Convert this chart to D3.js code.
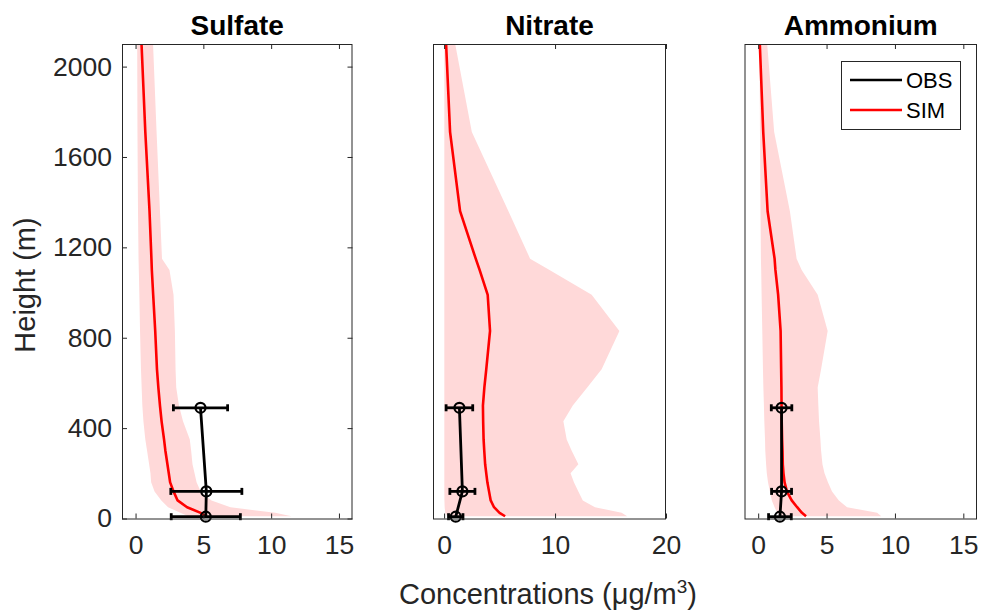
<!DOCTYPE html>
<html>
<head>
<meta charset="utf-8">
<script src="https://cdn.jsdelivr.net/npm/d3@7"></script>
<style>
  html, body { margin: 0; padding: 0; background: #fff; }
  svg { display: block; font-family: "Liberation Sans", Arial, Helvetica, sans-serif; }
</style>
</head>
<body>
<svg id="chart" width="983" height="613"></svg>
<script>
// ---------------- DATA ----------------
const species = ["Sulfate", "Nitrate", "Ammonium"];
const heights = [10, 25, 50, 80, 120, 160, 200, 240, 300, 350, 430, 500, 580, 660, 830, 990, 1100, 1150, 1360, 1710, 2100];

const sulfateSim = [5.2, 4.8, 3.8, 3.1, 2.8, 2.55, 2.45, 2.35, 2.2, 2.1, 1.92, 1.8, 1.68, 1.58, 1.45, 1.3, 1.2, 1.17, 1.03, 0.72, 0.44];
const sulfateMin = [3.9, 3.3, 2.4, 1.9, 1.4, 1.15, 1.1, 1.0, 0.85, 0.72, 0.58, 0.5, 0.45, 0.4, 0.33, 0.28, 0.24, 0.22, 0.18, 0.14, 0.12];
const sulfateMax = [11.5, 10.3, 7.0, 5.6, 4.8, 4.5, 4.35, 4.2, 4.1, 4.0, 3.5, 3.2, 3.0, 2.95, 2.9, 2.8, 2.5, 1.95, 1.8, 1.55, 1.29];

const nitrateSim = [5.5, 5.0, 4.5, 4.2, 4.05, 3.9, 3.8, 3.7, 3.62, 3.56, 3.52, 3.5, 3.63, 3.8, 4.14, 3.93, 3.2, 2.85, 1.44, 0.54, 0.18];
const nitrateMin = [0.3, 0.1, 0.05, 0.03, 0.02, 0.02, 0.02, 0.02, 0.02, 0.02, 0.02, 0.02, 0.02, 0.02, 0.02, 0.02, 0.02, 0.02, 0.02, 0.02, 0.02];
const nitrateMax = [16.5, 16.0, 13.6, 12.5, 12.1, 11.7, 11.4, 12.1, 11.5, 11.05, 10.75, 11.6, 12.9, 14.2, 15.8, 13.3, 9.5, 7.75, 5.8, 2.5, 1.0];

const ammoniumSim = [3.5, 3.2, 2.85, 2.45, 2.1, 1.93, 1.85, 1.8, 1.78, 1.75, 1.72, 1.71, 1.7, 1.68, 1.64, 1.46, 1.26, 1.2, 0.69, 0.37, 0.12];
const ammoniumMin = [1.6, 1.4, 1.2, 1.0, 0.86, 0.72, 0.63, 0.58, 0.52, 0.5, 0.45, 0.42, 0.38, 0.35, 0.3, 0.25, 0.22, 0.2, 0.17, 0.13, 0.1];
const ammoniumMax = [9.0, 8.7, 6.5, 5.9, 5.4, 5.1, 4.85, 4.7, 4.6, 4.55, 4.45, 4.4, 4.35, 4.6, 5.08, 4.35, 3.18, 2.81, 2.32, 1.17, 0.66];

const obsHeights = [8, 120, 490];
const sulfateObs = [5.18, 5.22, 4.79];
const sulfateErr = [2.55, 2.62, 2.0];
const nitrateObs = [1.05, 1.65, 1.38];
const nitrateErr = [0.65, 1.13, 1.2];
const ammoniumObs = [1.59, 1.71, 1.71];
const ammoniumErr = [0.83, 0.73, 0.75];

const yTicks = [0, 400, 800, 1200, 1600, 2000];
const xTicksSulfate = [0, 5, 10, 15];
const xTicksNitrate = [0, 10, 20];
const xTicksAmmonium = [0, 5, 10, 15];
const xDomains = [[-1, 16], [-1, 20], [-1, 16]];
const legendLabels = ["OBS", "SIM"];

// --------------- LAYOUT ---------------
const svg = d3.select("#chart");
const panelX = [[122, 352.5], [433, 666], [744.5, 977]];
const yTop = 44, yBottom = 518.5;
const y = d3.scaleLinear().domain([0, 2100]).range([yBottom, yTop]);

const panels = [
  {name: species[0], sim: sulfateSim, mn: sulfateMin, mx: sulfateMax, obs: sulfateObs, err: sulfateErr, ticks: xTicksSulfate},
  {name: species[1], sim: nitrateSim, mn: nitrateMin, mx: nitrateMax, obs: nitrateObs, err: nitrateErr, ticks: xTicksNitrate},
  {name: species[2], sim: ammoniumSim, mn: ammoniumMin, mx: ammoniumMax, obs: ammoniumObs, err: ammoniumErr, ticks: xTicksAmmonium}
];

const axisColor = "#262626";
const tickFont = 26.5;

panels.forEach((p, i) => {
  const [x0, x1] = panelX[i];
  const x = d3.scaleLinear().domain(xDomains[i]).range([x0, x1]);
  const g = svg.append("g");
  const clipId = "clip" + i;
  svg.append("clipPath").attr("id", clipId).append("rect")
    .attr("x", x0).attr("y", yTop).attr("width", x1 - x0).attr("height", yBottom - yTop);

  const plot = g.append("g").attr("clip-path", `url(#${clipId})`);
  const rows = heights.map((h, k) => ({h, sim: p.sim[k], mn: p.mn[k], mx: p.mx[k]}));

  // band
  plot.append("path").datum(rows)
    .attr("d", d3.area().y(d => y(d.h)).x0(d => x(d.mn)).x1(d => x(d.mx)))
    .attr("fill", "rgb(255,217,217)").attr("stroke", "none");

  // SIM line
  plot.append("path").datum(rows)
    .attr("d", d3.line().y(d => y(d.h)).x(d => x(d.sim)))
    .attr("fill", "none").attr("stroke", "#ff0000").attr("stroke-width", 2.6)
    .attr("stroke-linejoin", "round");

  // OBS
  const obsRows = obsHeights.map((h, k) => ({h, v: p.obs[k], e: p.err[k]}));
  plot.append("path").datum(obsRows)
    .attr("d", d3.line().y(d => y(d.h)).x(d => x(d.v)))
    .attr("fill", "none").attr("stroke", "#000").attr("stroke-width", 2.8);
  const eb = g.append("g").attr("stroke", "#000").attr("stroke-width", 2.8).attr("fill", "none");
  obsRows.forEach(d => {
    const yy = y(d.h);
    eb.append("line").attr("x1", x(d.v - d.e)).attr("x2", x(d.v + d.e)).attr("y1", yy).attr("y2", yy);
    eb.append("line").attr("x1", x(d.v - d.e)).attr("x2", x(d.v - d.e)).attr("y1", yy - 3.5).attr("y2", yy + 3.5);
    eb.append("line").attr("x1", x(d.v + d.e)).attr("x2", x(d.v + d.e)).attr("y1", yy - 3.5).attr("y2", yy + 3.5);
    eb.append("circle").attr("cx", x(d.v)).attr("cy", yy).attr("r", 5).attr("stroke-width", 2.2);
  });

  // box
  g.append("rect").attr("x", x0 + 0.5).attr("y", yTop + 0.5)
    .attr("width", x1 - x0 - 1).attr("height", yBottom - yTop)
    .attr("fill", "none").attr("stroke", axisColor).attr("stroke-width", 1);

  // bottom axis
  const ax = g.append("g").attr("transform", `translate(0,${yBottom})`)
    .call(d3.axisBottom(x).tickValues(p.ticks).tickSize(-5).tickPadding(17).tickFormat(d3.format("d")));
  ax.select(".domain").remove();
  ax.selectAll("line").attr("stroke", axisColor);
  ax.selectAll("text").attr("fill", axisColor).attr("font-size", tickFont).attr("font-family", null);

  const axT = g.append("g").attr("transform", `translate(0,${yTop})`)
    .call(d3.axisTop(x).tickValues(p.ticks).tickSize(-5).tickFormat(""));
  axT.select(".domain").remove();
  axT.selectAll("line").attr("stroke", axisColor);

  if (i === 0) {
    const ay = g.append("g").attr("transform", `translate(${x0},0)`)
      .call(d3.axisLeft(y).tickValues(yTicks).tickSize(-5).tickPadding(10).tickFormat(d3.format("d")));
    ay.select(".domain").remove();
    ay.selectAll("line").attr("stroke", axisColor);
    ay.selectAll("text").attr("fill", axisColor).attr("font-size", tickFont).attr("font-family", null);
    const ayR = g.append("g").attr("transform", `translate(${x1},0)`)
      .call(d3.axisRight(y).tickValues(yTicks).tickSize(-5).tickFormat(""));
    ayR.select(".domain").remove();
    ayR.selectAll("line").attr("stroke", axisColor);
  }

  // title
  g.append("text").attr("x", (x0 + x1) / 2).attr("y", 35)
    .attr("text-anchor", "middle").attr("font-weight", "bold").attr("font-size", 28)
    .attr("fill", "#000").text(p.name);

  // legend in last panel
  if (i === 2) {
    const lg = g.append("g");
    lg.append("rect").attr("x", 841.5).attr("y", 61.5).attr("width", 119).attr("height", 68)
      .attr("fill", "#fff").attr("stroke", axisColor).attr("stroke-width", 1);
    const colors = ["#000", "#ff0000"];
    legendLabels.forEach((lab, k) => {
      const ly = 80 + k * 30;
      lg.append("line").attr("x1", 850).attr("x2", 902).attr("y1", ly).attr("y2", ly)
        .attr("stroke", colors[k]).attr("stroke-width", 2.6);
      lg.append("text").attr("x", 906).attr("y", ly + 8).attr("font-size", 22)
        .attr("fill", "#000").text(lab);
    });
  }
});

// axis labels
svg.append("text").attr("transform", "translate(35,285) rotate(-90)")
  .attr("text-anchor", "middle").attr("font-size", 29).attr("fill", axisColor).text("Height (m)");

const xl = svg.append("text").attr("x", 548).attr("y", 604)
  .attr("text-anchor", "middle").attr("font-size", 29).attr("fill", axisColor);
xl.append("tspan").text("Concentrations (μg/m");
xl.append("tspan").attr("font-size", 19).attr("dy", -11).text("3");
xl.append("tspan").attr("dy", 11).text(")");
</script>
</body>
</html>
